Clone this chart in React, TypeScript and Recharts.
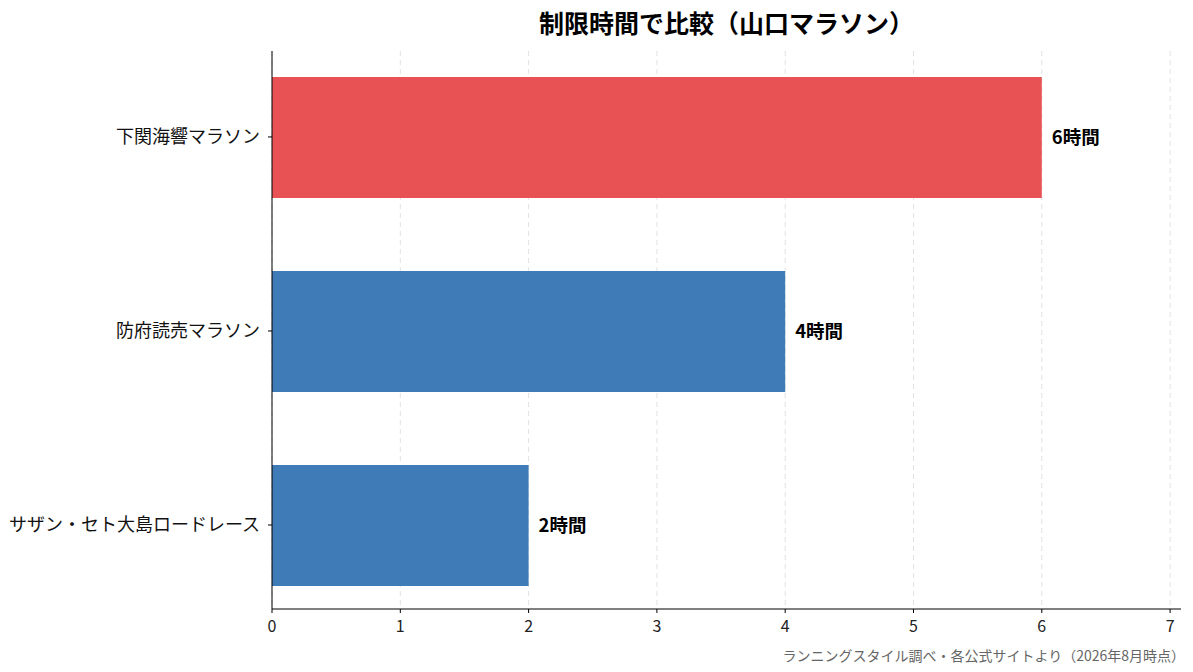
import React from 'react';
import { BarChart, Bar, XAxis, YAxis, CartesianGrid, Cell, LabelList } from 'recharts';

const races = ['下関海響マラソン', '防府読売マラソン', 'サザン・セト大島ロードレース'];
const limitHours = [6, 4, 2];
const barColors = ['#E85254', '#3E7BB7', '#3E7BB7'];
const xTicks = [0, 1, 2, 3, 4, 5, 6, 7];
const X_MAX = 7.085;

const FONT = '"Noto Sans CJK JP", "Noto Sans", sans-serif';

const data = races.map((name, i) => ({ name, pos: i, hours: limitHours[i] }));

// grid only at the tick values, not at the plot edge
const gridX = ({ offset }: any) => xTicks.map((t) => offset.left + (offset.width * t) / X_MAX);

export default function App() {
  return (
    <div style={{ position: 'relative', width: 1193, height: 672, fontFamily: FONT, background: '#fff' }}>
      <style>{`body { margin: 0; }`}</style>
      <div
        style={{
          position: 'absolute',
          top: 5,
          left: 272,
          width: 909,
          textAlign: 'center',
          fontSize: 25,
          fontWeight: 700,
          color: '#000',
          lineHeight: '34px',
        }}
      >
        制限時間で比較（山口マラソン）
      </div>
      <BarChart
        width={1193}
        height={672}
        data={data}
        layout="vertical"
        margin={{ top: 51, right: 12, bottom: 33, left: 10 }}
      >
        <CartesianGrid
          horizontal={false}
          stroke="#e3e3e3"
          strokeDasharray="5 4"
          verticalCoordinatesGenerator={gridX}
        />
        <XAxis
          type="number"
          domain={[0, X_MAX]}
          ticks={xTicks}
          allowDataOverflow
          height={30}
          axisLine={{ stroke: '#000' }}
          tickLine={{ stroke: '#000' }}
          tickSize={4}
          tickMargin={8}
          tick={{ fill: '#222', fontSize: 16, fontFamily: FONT }}
        />
        <YAxis
          type="number"
          dataKey="pos"
          domain={[-0.443, 2.433]}
          ticks={[0, 1, 2]}
          tickFormatter={(v: number) => races[v] ?? ''}
          width={262}
          axisLine={{ stroke: '#000' }}
          tickLine={{ stroke: '#000' }}
          tickSize={4}
          tickMargin={8}
          tick={{ fill: '#111', fontSize: 18, fontFamily: FONT }}
        />
        <Bar dataKey="hours" barSize={121} isAnimationActive={false}>
          {data.map((d, i) => (
            <Cell key={d.name} fill={barColors[i]} />
          ))}
          <LabelList
            dataKey="hours"
            position="right"
            offset={10}
            formatter={(v: number) => `${v}時間`}
            style={{ fill: '#000', fontSize: 18.5, fontWeight: 700, fontFamily: FONT }}
          />
        </Bar>
      </BarChart>
      <div
        style={{
          position: 'absolute',
          right: 8,
          top: 644,
          fontSize: 14,
          color: '#666',
          lineHeight: '22px',
        }}
      >
        ランニングスタイル調べ・各公式サイトより（2026年8月時点）
      </div>
    </div>
  );
}
